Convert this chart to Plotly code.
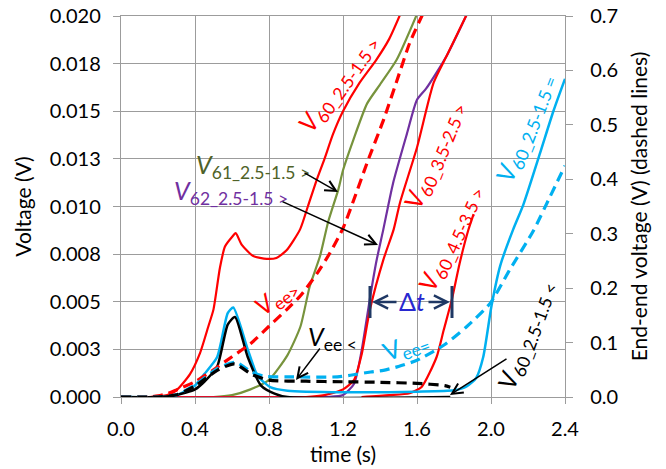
import plotly.graph_objects as go

# ---------------- data ----------------
# left axis (solid lines), voltage in V
t_r25 = [0, 0.15, 0.25, 0.3, 0.373, 0.427, 0.472, 0.5, 0.535, 0.562, 0.6, 0.62, 0.652, 0.715, 0.788,
         0.84, 0.895, 0.968, 1.01, 1.058, 1.1, 1.146, 1.2, 1.29, 1.38, 1.45, 1.51]
v_r25 = [0, 0, 0.0001, 0.00035, 0.0012, 0.0023, 0.0037, 0.0046, 0.0068, 0.0079, 0.0084, 0.0086, 0.0080,
         0.0074, 0.00725, 0.0073, 0.0077, 0.0088, 0.0100, 0.0114, 0.0125, 0.0138, 0.0150, 0.0165, 0.0177,
         0.0188, 0.0201]

t_g61 = [0, 0.5, 0.6, 0.7, 0.8, 0.9, 0.97, 1.02, 1.076, 1.12, 1.175, 1.2, 1.256, 1.33, 1.4, 1.49, 1.6]
v_g61 = [0, 0, 0.0001, 0.0004, 0.0009, 0.0022, 0.0037, 0.0058, 0.0074, 0.0092, 0.0109, 0.0119, 0.0135,
         0.0154, 0.0164, 0.0177, 0.0201]

t_p62 = [0, 1.0, 1.12, 1.2, 1.26, 1.3, 1.333, 1.346, 1.38, 1.418, 1.47, 1.545, 1.6, 1.65, 1.76, 1.87]
v_p62 = [0, 0, 0, 0.0001, 0.0007, 0.0024, 0.0044, 0.0052, 0.0071, 0.0088, 0.0112, 0.0138, 0.0156, 0.0162,
         0.0179, 0.0201]

t_r35 = [0, 1.0, 1.1, 1.2, 1.26, 1.3, 1.346, 1.418, 1.474, 1.508, 1.6, 1.69, 1.76, 1.87]
v_r35 = [0, 0, 0.0001, 0.0004, 0.0009, 0.0022, 0.0046, 0.0072, 0.0088, 0.0102, 0.0131, 0.0165, 0.0179, 0.0201]

t_r45 = [1.3, 1.45, 1.56, 1.625, 1.706, 1.744, 1.788, 1.83, 1.877, 1.906]
v_r45 = [0, 0.0001, 0.0002, 0.00053, 0.0021, 0.0035, 0.0051, 0.0070, 0.00875, 0.0096]

t_c25 = [0, 0.2, 0.3, 0.4, 0.45, 0.52, 0.577, 0.607, 0.685, 0.739, 0.81, 0.9, 1.2, 1.6, 1.8, 1.868, 1.92,
         1.958, 2.003, 2.05, 2.12, 2.175, 2.265, 2.337, 2.4]
v_c25 = [0, 0, 0.0001, 0.0006, 0.0012, 0.0021, 0.0044, 0.0047, 0.0025, 0.0011, 0.0005, 0.00033, 0.00025,
         0.00028, 0.00035, 0.00055, 0.001, 0.0021, 0.0048, 0.0069, 0.0088, 0.0101, 0.0128, 0.0150, 0.0167]

t_k25 = [0, 0.2, 0.3, 0.4, 0.45, 0.52, 0.577, 0.616, 0.685, 0.757, 0.83, 0.9, 1.78]
v_k25 = [0, 0, 0.0001, 0.0004, 0.0008, 0.0016, 0.0038, 0.0042, 0.0021, 0.0006, 0.00018, 0, 0]

# right axis (dashed lines), end-end voltage in V
t_ree = [0, 0.15, 0.2, 0.25, 0.3, 0.4, 0.5, 0.6, 0.7, 0.8, 0.9, 0.97, 1.06, 1.13, 1.2, 1.256, 1.33, 1.42,
         1.5, 1.56, 1.64]
v_ree = [0, 0, 0.002, 0.006, 0.013, 0.028, 0.05, 0.074, 0.098, 0.13, 0.162, 0.186, 0.227, 0.265, 0.31,
         0.36, 0.43, 0.51, 0.59, 0.65, 0.71]

t_cee = [0, 0.2, 0.3, 0.4, 0.52, 0.62, 0.705, 0.775, 0.9, 1.17, 1.24, 1.35, 1.418, 1.5, 1.6, 1.744, 1.868,
         1.995, 2.1, 2.23, 2.319, 2.4]
v_cee = [0, 0, 0.004, 0.022, 0.052, 0.064, 0.046, 0.038, 0.037, 0.037, 0.04, 0.046, 0.049, 0.056, 0.0675,
         0.095, 0.129, 0.172, 0.233, 0.306, 0.368, 0.425]

t_kee = [0, 0.2, 0.3, 0.4, 0.52, 0.614, 0.705, 0.8, 1.0, 1.2, 1.4, 1.6, 1.75, 1.78]
v_kee = [0, 0, 0.004, 0.02, 0.049, 0.061, 0.042, 0.031, 0.029, 0.028, 0.027, 0.025, 0.021, 0.018]

x_ticks = [0.0, 0.4, 0.8, 1.2, 1.6, 2.0, 2.4]
y_ticks = [0, 0.0025, 0.005, 0.0075, 0.01, 0.0125, 0.015, 0.0175, 0.02]
y_ticktext = ["0.000", "0.003", "0.005", "0.008", "0.010", "0.013", "0.015", "0.018", "0.020"]

# ---------------- styling ----------------
RED = "#ff0000"
GREEN = "#77933c"
GREEN_TXT = "#4f6228"
PURPLE = "#7030a0"
CYAN = "#00b0f0"
BLACK = "#000000"
NAVY = "#1f3864"
BLUE = "#2828d0"
GRID = "#9c9c9c"
FONT = "Lato"

W, H = 666, 469
PL, PR, PT, PB = 121, 565, 16, 397  # plot area in pixels
XMAX, YMAX, Y2MAX = 2.4, 0.02, 0.7


def to_data(xp, yp):
    return (xp - PL) / (PR - PL) * XMAX, (PB - yp) / (PB - PT) * YMAX


fig = go.Figure()

solid = [
    (t_r25, v_r25, RED, 2.2),
    (t_g61, v_g61, GREEN, 2.2),
    (t_p62, v_p62, PURPLE, 2.2),
    (t_r35, v_r35, RED, 2.2),
    (t_r45, v_r45, RED, 2.2),
    (t_c25, v_c25, CYAN, 2.5),
    (t_k25, v_k25, BLACK, 2.5),
]
for t, v, c, w in solid:
    fig.add_trace(go.Scatter(x=t, y=v, mode="lines", line=dict(color=c, width=w, shape="spline", smoothing=0.6),
                             showlegend=False, hoverinfo="skip"))

dashed = [
    (t_ree, v_ree, RED),
    (t_cee, v_cee, CYAN),
    (t_kee, v_kee, BLACK),
]
for t, v, c in dashed:
    fig.add_trace(go.Scatter(x=t, y=v, mode="lines", yaxis="y2",
                             line=dict(color=c, width=3.2, dash="10px,6px", shape="spline", smoothing=0.6),
                             showlegend=False, hoverinfo="skip"))

ann = []
LBL = 25


def label(xp, yp, text, color, angle=0, size=LBL):
    x, y = to_data(xp, yp)
    ann.append(dict(x=x, y=y, xref="x", yref="y", text=text, showarrow=False, textangle=angle,
                    xanchor="center", yanchor="middle", font=dict(family=FONT, size=size, color=color)))


def arrow(hx, hy, tx, ty, color=BLACK, width=1.5, size=1.4):
    x, y = to_data(hx, hy)
    ann.append(dict(x=x, y=y, xref="x", yref="y", text="", showarrow=True, ax=tx - hx, ay=ty - hy,
                    arrowhead=5, arrowwidth=width, arrowsize=size, arrowcolor=color, standoff=0))


label(338, 83, "<i>V</i><sub>60_2.5-1.5 &gt;</sub>", RED, -55)
label(253, 166, "<i>V</i><sub>61_2.5-1.5 &gt;</sub>", GREEN_TXT, 0)
label(231, 192, "<i>V</i><sub>62_2.5-1.5 &gt;</sub>", PURPLE, 0)
label(434, 155, "<i>V</i><sub>60_3.5-2.5 &gt;</sub>", RED, -68)
label(450, 238, "<i>V</i><sub>60_4.5-3.5 &gt;</sub>", RED, -66)
label(525, 128, "<i>V</i><sub>60_2.5-1.5 =</sub>", CYAN, -69)
label(276, 297, "<i>V</i><sub>ee&gt;</sub>", RED, -38)
label(332, 338, "<i>V</i><sub>ee &lt;</sub>", BLACK, 0)
label(406, 346, "V<sub>ee=</sub>", CYAN, -20)
label(526, 335, "<i>V</i><sub>60_2.5-1.5 &lt;</sub>", BLACK, -70)
label(412, 301, "Δ<i>t</i>", BLUE, 0, 25)

arrow(338, 192, 303, 172)
arrow(378, 245, 281, 201)
arrow(296, 380, 321, 347)
arrow(450, 395, 508, 358)
arrow(372, 302, 398, 302, NAVY, 2.6, 1.0)
arrow(450, 302, 427, 302, NAVY, 2.6, 1.0)

shapes = []
for xp in (370, 452):
    x0, y0 = to_data(xp, 286)
    _, y1 = to_data(xp, 318)
    shapes.append(dict(type="line", xref="x", yref="y", x0=x0, x1=x0, y0=y0, y1=y1,
                       line=dict(color=NAVY, width=3)))

tickfont = dict(family=FONT, size=20, color="#000000")
fig.update_layout(
    width=W, height=H,
    margin=dict(l=PL, r=W - PR, t=PT, b=H - PB, autoexpand=False),
    paper_bgcolor="white", plot_bgcolor="white",
    font=dict(family=FONT, size=20, color="#000000"),
    annotations=ann, shapes=shapes,
    xaxis=dict(range=[0, XMAX], tickvals=x_ticks, tickformat=".1f", showgrid=True, gridcolor=GRID, gridwidth=1.4,
               showline=True, linecolor=GRID, linewidth=1.4, mirror=True, ticks="outside", ticklen=6,
               tickcolor=GRID, tickfont=tickfont, zeroline=False, automargin=False, ticklabelstandoff=8,
               title=dict(text="time (s)", font=dict(family=FONT, size=21), standoff=8)),
    yaxis=dict(range=[0, YMAX], tickvals=y_ticks, ticktext=y_ticktext, showgrid=True, gridcolor=GRID,
               gridwidth=1.4, showline=True, linecolor=GRID, linewidth=1.4, mirror=True, ticks="outside",
               ticklen=7, tickcolor=GRID, tickfont=tickfont, zeroline=False, ticklabelstandoff=8,
               automargin=False,
               title=dict(text="Voltage (V)", font=dict(family=FONT, size=21), standoff=12)),
    yaxis2=dict(range=[0, Y2MAX], dtick=0.1, tickformat=".1f", overlaying="y", side="right", showgrid=False,
                zeroline=False, showline=True, linecolor=GRID, linewidth=1.4, ticks="outside", ticklen=7,
                tickcolor=GRID, tickfont=tickfont, ticklabelstandoff=13, automargin=False,
                title=dict(text="End-end voltage (V) (dashed lines)", font=dict(family=FONT, size=21), standoff=14)),
)

fig.write_html("out.html", config={"displayModeBar": False},
               post_script="document.body.style.margin='0px';document.body.style.overflow='hidden';")
